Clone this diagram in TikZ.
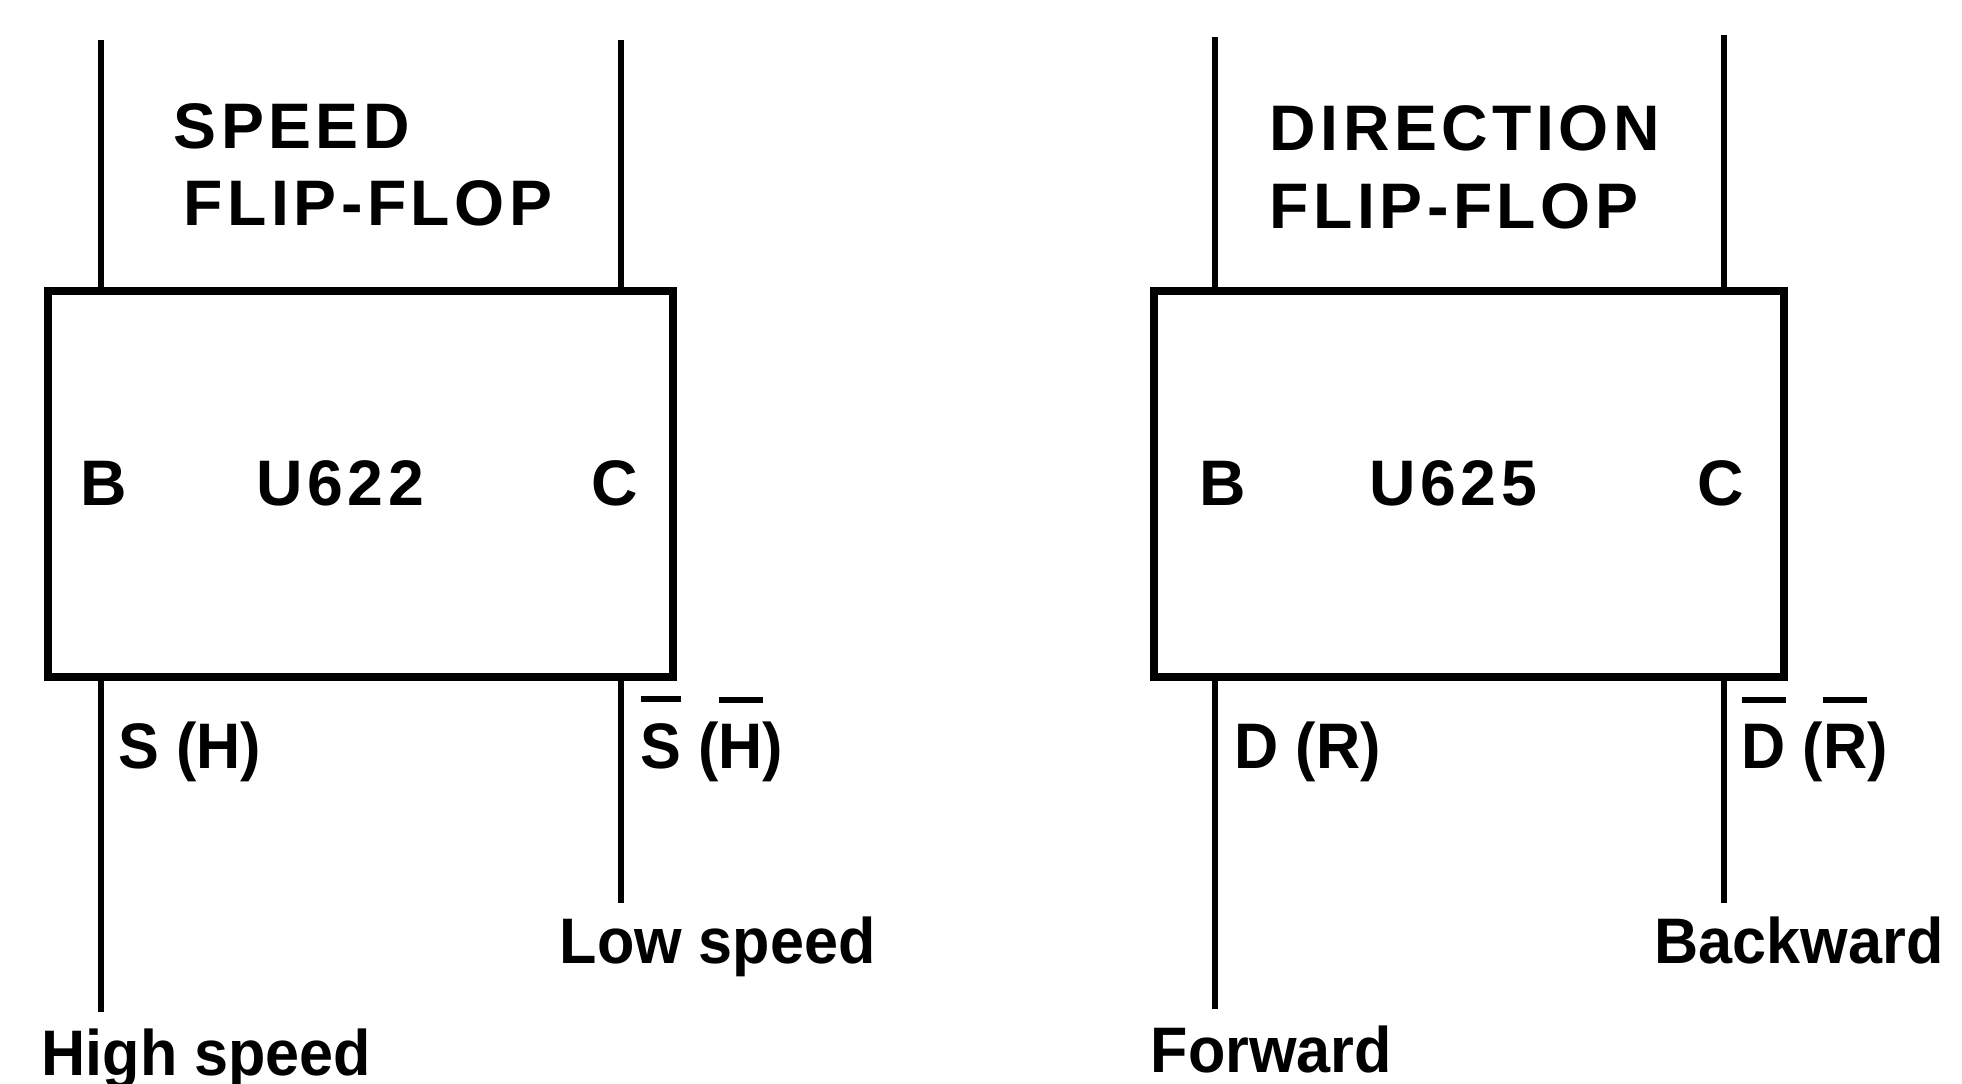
\documentclass[tikz,border=0pt]{standalone}
\usepackage{fontspec}
\setmainfont{Liberation Sans}[BoldFeatures={FakeStretch=0.95}]
\newfontfamily\spacedfont{Liberation Sans}[BoldFeatures={LetterSpace=7}]
\newcommand{\negbar}[1]{\leavevmode\setbox0\hbox{#1}\rlap{\rule[\dimexpr\ht0+6pt\relax]{\wd0}{1.6pt}}\box0\relax}

\begin{document}
\begin{tikzpicture}[x=0.01cm, y=-0.01cm,
    ffbox/.style={draw, line width=2.3pt, minimum height=3.86cm, inner sep=0pt},
    lead/.style={line width=1.7pt},
    lbl/.style={inner sep=0pt, anchor=base west, font=\fontsize{18.3}{22}\selectfont\bfseries},
    caplbl/.style={lbl, font=\fontsize{18.3}{22}\spacedfont\bfseries}]
  \useasboundingbox (0,0) rectangle (1962,1084);
  % ------- speed flip-flop -------
  \node[ffbox, minimum width=6.25cm] (spdff) at (360.5,484) {};
  \coordinate (spdBin) at (101,40);
  \coordinate (spdCin) at (621,40);
  \coordinate (spdhighend) at (101,1012);
  \coordinate (spdlowend) at (621,903);
  \draw[lead] (spdBin) -- (spdBin |- spdff.north);
  \draw[lead] (spdCin) -- (spdCin |- spdff.north);
  \draw[lead] (spdhighend |- spdff.south) -- (spdhighend);
  \draw[lead] (spdlowend |- spdff.south) -- (spdlowend);
  \node[caplbl] (spdname) at (173,148) {SPEED};
  \node[caplbl] (spdkind) at (183,225) {FLIP-FLOP};
  \node[caplbl] (spdB) at (80,505) {B};
  \node[caplbl] (spdU) at (256,505) {U622};
  \node[caplbl] (spdC) at (591,505) {C};
  \node[lbl] (spdS) at (118,768) {S (H)};
  \node[lbl] (spdSn) at (640,768) {\negbar{S} (\negbar{H})};
  \node[lbl] (spdlow) at (559,963) {Low speed};
  \node[lbl] (spdhigh) at (41,1075) {High speed};
  % ------- direction flip-flop -------
  \node[ffbox, minimum width=6.30cm] (dirff) at (1469,484) {};
  \coordinate (dirBin) at (1215,37);
  \coordinate (dirCin) at (1724,35);
  \coordinate (dirfwdend) at (1215,1009);
  \coordinate (dirbwdend) at (1724,903);
  \draw[lead] (dirBin) -- (dirBin |- dirff.north);
  \draw[lead] (dirCin) -- (dirCin |- dirff.north);
  \draw[lead] (dirfwdend |- dirff.south) -- (dirfwdend);
  \draw[lead] (dirbwdend |- dirff.south) -- (dirbwdend);
  \node[caplbl] (dirname) at (1269,150) {DIRECTION};
  \node[caplbl] (dirkind) at (1269,228) {FLIP-FLOP};
  \node[caplbl] (dirB) at (1199,505) {B};
  \node[caplbl] (dirU) at (1369,505) {U625};
  \node[caplbl] (dirC) at (1697,505) {C};
  \node[lbl] (dirD) at (1234,768) {D (R)};
  \node[lbl] (dirDn) at (1741,768) {\negbar{D} (\negbar{R})};
  \node[lbl] (dirbwd) at (1654,963) {Backward};
  \node[lbl] (dirfwd) at (1150,1072) {Forward};
\end{tikzpicture}
\end{document}
